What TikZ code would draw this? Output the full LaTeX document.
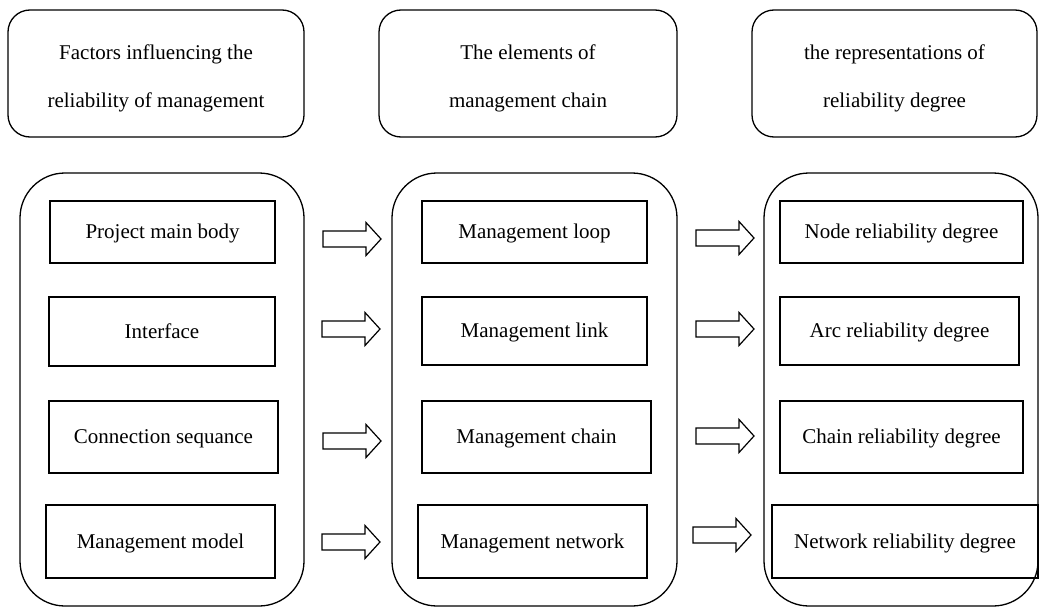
\documentclass[tikz,border=0pt]{standalone}
\usepackage{fontspec}
\setmainfont{Liberation Serif}
\tikzset{
  topbox/.style={draw, line width=1.3pt, rounded corners=22pt, inner sep=0pt},
  bigbox/.style={draw, line width=1.3pt, rounded corners=45pt, inner sep=0pt},
  itembox/.style={draw, line width=1.3pt, inner sep=0pt, text height=13pt, text depth=0pt,
    font=\fontsize{21}{25}\selectfont},
  toptext/.style={anchor=base, inner sep=0pt, font=\fontsize{21}{25}\selectfont},
  barrow/.pic={\draw[line width=1.2pt, line join=miter] (0,-8) -- (43,-8) -- (43,-16.5) -- (58,0) -- (43,16.5) -- (43,8) -- (0,8) -- cycle;}
}
\begin{document}
\begin{tikzpicture}[x=1pt,y=-1pt]
\useasboundingbox (0,0) rectangle (1040,607);
% top boxes
\node[topbox, minimum width=296pt, minimum height=127pt] (t1) at (156,73.5) {};
\node[topbox, minimum width=298pt, minimum height=127pt] (t2) at (528,73.5) {};
\node[topbox, minimum width=285pt, minimum height=127pt] (t3) at (894.5,73.5) {};
\node[toptext] (t1a) at (156,60) {Factors influencing the};
\node[toptext] (t1b) at (156,108) {reliability of management};
\node[toptext] (t2a) at (528,60) {The elements of};
\node[toptext] (t2b) at (528,108) {management chain};
\node[toptext] (t3a) at (894.5,60) {the representations of};
\node[toptext] (t3b) at (894.5,108) {reliability degree};
% big boxes
\node[bigbox, minimum width=284pt, minimum height=433pt] (b1) at (162,389.5) {};
\node[bigbox, minimum width=285pt, minimum height=433pt] (b2) at (534.5,389.5) {};
\node[bigbox, minimum width=274pt, minimum height=433pt] (b3) at (901,389.5) {};
% column 1
\node[itembox, minimum width=225pt, minimum height=62pt] (p1) at (162.5,232) {Project main body};
\node[itembox, minimum width=226pt, minimum height=69pt] (p2) at (162,331.5) {Interface};
\node[itembox, minimum width=229pt, minimum height=72pt] (p3) at (163.5,437) {Connection sequance};
\node[itembox, minimum width=229pt, minimum height=73pt] (p4) at (160.5,541.5) {Management model};
% column 2
\node[itembox, minimum width=225pt, minimum height=62pt] (m1) at (534.5,232) {Management loop};
\node[itembox, minimum width=225pt, minimum height=68pt] (m2) at (534.5,331) {Management link};
\node[itembox, minimum width=229pt, minimum height=72pt] (m3) at (536.5,437) {Management chain};
\node[itembox, minimum width=229pt, minimum height=73pt] (m4) at (532.5,541.5) {Management network};
% column 3
\node[itembox, minimum width=243pt, minimum height=62pt] (r1) at (901.5,232) {Node reliability degree};
\node[itembox, minimum width=239pt, minimum height=68pt] (r2) at (899.5,331) {Arc reliability degree};
\node[itembox, minimum width=243pt, minimum height=72pt] (r3) at (901.5,437) {Chain reliability degree};
\node[itembox, minimum width=266pt, minimum height=73pt] (r4) at (905,541.5) {Network reliability degree};
% arrows
\pic (a1) at (323,239) {barrow};
\pic (a2) at (322,329) {barrow};
\pic (a3) at (323,441) {barrow};
\pic (a4) at (322,542) {barrow};
\pic (c1) at (696,238) {barrow};
\pic (c2) at (696,329) {barrow};
\pic (c3) at (696,436) {barrow};
\pic (c4) at (693,535) {barrow};
\end{tikzpicture}
\end{document}
